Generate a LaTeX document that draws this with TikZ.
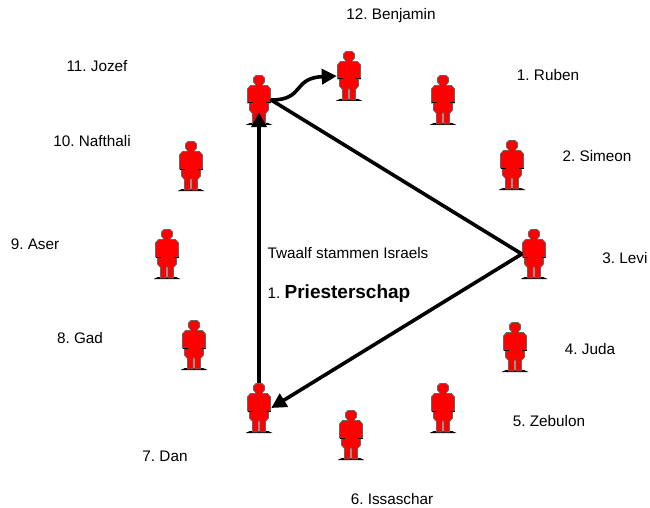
\documentclass[tikz,border=0pt]{standalone}
\usepackage{fontspec}
\setmainfont{Liberation Sans}
\usetikzlibrary{arrows.meta}

\colorlet{persoon_rood}{red}
\colorlet{persoon_rand}{black!60!white}

\tikzset{
  persoon/.style={rectangle, minimum width=24pt, minimum height=50pt, inner sep=0pt},
  label/.style={rectangle, text=black, inner sep=0pt, font=\fontsize{15.3}{18}\selectfont\frenchspacing},
  pijl/.style={draw=black, line width=3.6pt, -{Triangle[length=15pt, width=15pt]}},
  pics/figuur/.style={code={
    \fill[black] (-13.5,25) -- (-9,23) -- (9,23) -- (13.5,25) -- cycle;
    \draw[fill=persoon_rood, draw=persoon_rand, line width=0.8pt]
      (-3,-24.5) -- (3,-24.5) -- (5.5,-22) -- (5.5,-18) -- (3.5,-15.5) -- (3.5,-14.5)
      -- (8.5,-14.5) -- (11.5,-11) -- (11.5,3) -- (9.5,3) -- (9.5,10) -- (6.5,13.5) -- (6.5,24)
      -- (0.8,24) -- (0.8,13) -- (-0.8,13) -- (-0.8,24) -- (-6.5,24) -- (-6.5,13.5) -- (-9.5,10)
      -- (-9.5,3) -- (-11.5,3) -- (-11.5,-11) -- (-8.5,-14.5) -- (-3.5,-14.5) -- (-3.5,-15.5)
      -- (-5.5,-18) -- (-5.5,-22) -- cycle;
    \draw[black, line width=1pt] (-11.5,3) -- (-6.5,3) (6.5,3) -- (11.5,3);
  }}
}

\begin{document}
\begin{tikzpicture}[x=1pt, y=-1pt]
  \useasboundingbox (0,0) rectangle (650,508);

  \foreach \naam/\x/\y in {benjamin/349/76, ruben/443/100, simeon/512/165,
      levi/534/254, juda/515/347, zebulon/443/408, issaschar/351/435,
      dan/259/408, gad/194/345, aser/167/254, nafthali/191/166, jozef/259/100} {
    \pic at (\x,\y) {figuur};
    \node[persoon] (\naam) at (\x,\y) {};
  }

  \node[label] (l12) at (391,16) {12. Benjamin};
  \node[label] (l1) at (548,75.5) {1. Ruben};
  \node[label] (l2) at (597,156.5) {2. Simeon};
  \node[label] (l3) at (625,258) {3. Levi};
  \node[label] (l4) at (590,349.5) {4. Juda};
  \node[label] (l5) at (549,421.5) {5. Zebulon};
  \node[label] (l6) at (392,499) {6. Issaschar};
  \node[label] (l7) at (165,456) {7. Dan};
  \node[label] (l8) at (80,338) {8. Gad};
  \node[label] (l9) at (35,244) {9. Aser};
  \node[label] (l10) at (92,141) {10. Nafthali};
  \node[label] (l11) at (97,66) {11. Jozef};

  \node[label] (titel) at (348,253) {Twaalf stammen Israels};
  \node[label] (priester) at (339,294)
    {1. {\fontsize{19}{22}\selectfont\bfseries Priesterschap}};

  \draw[line width=3.6pt, line cap=round] (levi.west) -- (jozef.east);
  \draw[pijl] (levi.west) -- (dan.east);
  \draw[pijl] (dan.north) -- ([yshift=13pt]jozef.south);
  \draw[pijl] (jozef.east) .. controls (305,100) and (292,78) .. (benjamin.west);
\end{tikzpicture}
\end{document}
